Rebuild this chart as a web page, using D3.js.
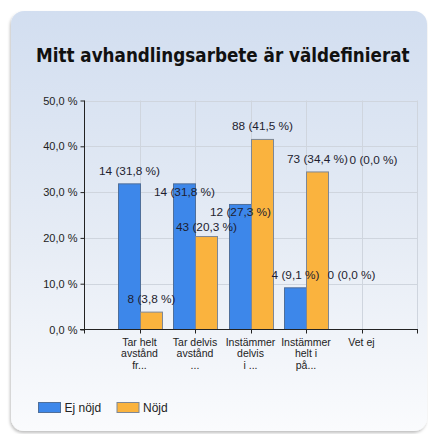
<!DOCTYPE html>
<html><head><meta charset="utf-8">
<script src="https://cdn.jsdelivr.net/npm/d3@7/dist/d3.min.js"></script>
<style>html,body{margin:0;padding:0;background:#fff;}svg{display:block;}</style>
</head><body>
<script>
const title = "Mitt avhandlingsarbete är väldefinierat";
const categories = [["Tar helt","avstånd","fr..."],["Tar delvis","avstånd","..."],["Instämmer","delvis","i ..."],["Instämmer","helt i","på..."],["Vet ej"]];
const seriesNames = ["Ej nöjd","Nöjd"];
const ejNojdCounts = [14,14,12,4,0];
const ejNojdPct = [31.8,31.8,27.3,9.1,0.0];
const nojdCounts = [8,43,88,73,0];
const nojdPct = [3.8,20.3,41.5,34.4,0.0];
const yTicks = [0,10,20,30,40,50];
// label vertical nudges (px) to mimic the original's overlap handling
const ejLabelShift = [0,21,21,0,-42];
const nojdLabelShift = [0,3,0,0,-157];

const W=428,H=434;
const colors=["#3d87ea","#fab33e"];
const strokes=["#4f6f9a","#7d8796"];
const svg=d3.select("body").append("svg").attr("width",W).attr("height",H);
const defs=svg.append("defs");
const g1=defs.append("linearGradient").attr("id","bg").attr("x1",0).attr("y1",0).attr("x2",0).attr("y2",1);
g1.append("stop").attr("offset","0%").attr("stop-color","#d2def0");
g1.append("stop").attr("offset","55%").attr("stop-color","#e6ecf5");
g1.append("stop").attr("offset","100%").attr("stop-color","#fafbfd");
const f=defs.append("filter").attr("id","sh").attr("x","-5%").attr("y","-5%").attr("width","110%").attr("height","110%");
f.append("feDropShadow").attr("dx",-1).attr("dy",2).attr("stdDeviation",1.5).attr("flood-color","#000").attr("flood-opacity",0.25);
svg.append("rect").attr("x",11).attr("y",11).attr("width",416).attr("height",420).attr("rx",13)
  .attr("fill","url(#bg)").attr("filter","url(#sh)");

const tt=svg.append("text").attr("x",36).attr("y",62)
  .attr("font-family","DejaVu Sans Condensed, DejaVu Sans").attr("font-weight","bold").attr("font-size",20).attr("fill","#111").text(title);
const tw=tt.node().getComputedTextLength();
tt.attr("font-size",20*374/tw);

const x0=84,x1=417,yTop=100.5,yBot=329.5;
const x=d3.scalePoint().domain(d3.range(categories.length)).range([x0,x1]).padding(1);
const y=d3.scaleLinear().domain([0,50]).range([yBot,yTop]);
const bw=22;

// grid
const grid=svg.append("g").attr("stroke","#cfd5de").attr("stroke-width",1);
yTicks.filter(d=>d>0).forEach(t=>grid.append("line").attr("x1",x0).attr("x2",x1).attr("y1",Math.round(y(t))+0.5).attr("y2",Math.round(y(t))+0.5));
categories.forEach((c,i)=>grid.append("line").attr("x1",Math.round(x(i))+0.5).attr("x2",Math.round(x(i))+0.5).attr("y1",yTop).attr("y2",yBot));
grid.append("line").attr("x1",x1+0.5).attr("x2",x1+0.5).attr("y1",yTop).attr("y2",yBot);

// bars
const series=[{c:ejNojdCounts,p:ejNojdPct,s:ejLabelShift,off:-bw},{c:nojdCounts,p:nojdPct,s:nojdLabelShift,off:0}];
series.forEach((se,k)=>{
  svg.append("g").selectAll("rect").data(se.p).join("rect")
    .attr("x",(d,i)=>Math.round(x(i))+se.off+0.5).attr("width",bw)
    .attr("y",d=>y(d)).attr("height",d=>Math.max(0,yBot-y(d)))
    .attr("fill",colors[k]).attr("stroke",strokes[k]).attr("stroke-width",1)
    .attr("display",d=>d>0?null:"none");
});
// axes
const yAxis=d3.axisLeft(y).tickValues(yTicks).tickSize(4).tickFormat(d=>d3.format(".1f")(d).replace(".",",")+" %");
const ya=svg.append("g").attr("transform",`translate(${x0+0.5},0)`).call(yAxis);
ya.select(".domain").attr("d",`M0,${yTop}V${yBot+4}`).attr("stroke","#222");
ya.selectAll(".tick line").attr("stroke","#222");
ya.selectAll(".tick text").attr("font-family","Liberation Sans, Arial").attr("font-size",11).attr("fill","#222").attr("x",-7);

const xa=svg.append("g").attr("transform",`translate(0,${yBot})`);
xa.append("line").attr("x1",x0-4).attr("x2",x1+1).attr("y1",0).attr("y2",0).attr("stroke","#222");
categories.forEach((c,i)=>{
  xa.append("line").attr("x1",Math.round(x(i))+0.5).attr("x2",Math.round(x(i))+0.5).attr("y1",0).attr("y2",4).attr("stroke","#222");
});
xa.append("line").attr("x1",x1+0.5).attr("x2",x1+0.5).attr("y1",0).attr("y2",4).attr("stroke","#222");
const xt=xa.selectAll("text.cat").data(categories).join("text").attr("class","cat")
  .attr("x",(d,i)=>x(i)).attr("y",16).attr("text-anchor","middle")
  .attr("font-family","Liberation Sans, Arial").attr("font-size",10.5).attr("fill","#222");
xt.each(function(d){
  const t=d3.select(this);
  d.forEach((line,j)=>t.append("tspan").attr("x",t.attr("x")).attr("dy",j===0?0:11.8).text(line));
});

// value labels
series.forEach((se,k)=>{
  svg.append("g").selectAll("text").data(se.p).join("text")
    .attr("x",(d,i)=>Math.round(x(i))+se.off+bw/2+0.5)
    .attr("y",(d,i)=>y(d)-9+se.s[i]).attr("text-anchor","middle")
    .attr("font-family","Liberation Sans, Arial").attr("font-size",11.8).attr("fill","#1e1e30")
    .text((d,i)=>`${se.c[i]} (${d3.format(".1f")(d).replace(".",",")} %)`);
});

// legend
const lg=svg.append("g").attr("transform","translate(38,402)");
seriesNames.forEach((n,k)=>{
  const gx=k*78.5;
  lg.append("rect").attr("x",gx+0.5).attr("y",0.5).attr("width",22).attr("height",10).attr("fill",colors[k]).attr("stroke",strokes[k]);
  lg.append("text").attr("x",gx+26.5).attr("y",9.5).attr("font-family","Liberation Sans, Arial").attr("font-size",12).attr("fill","#222").text(n);
});
</script>
</body></html>
